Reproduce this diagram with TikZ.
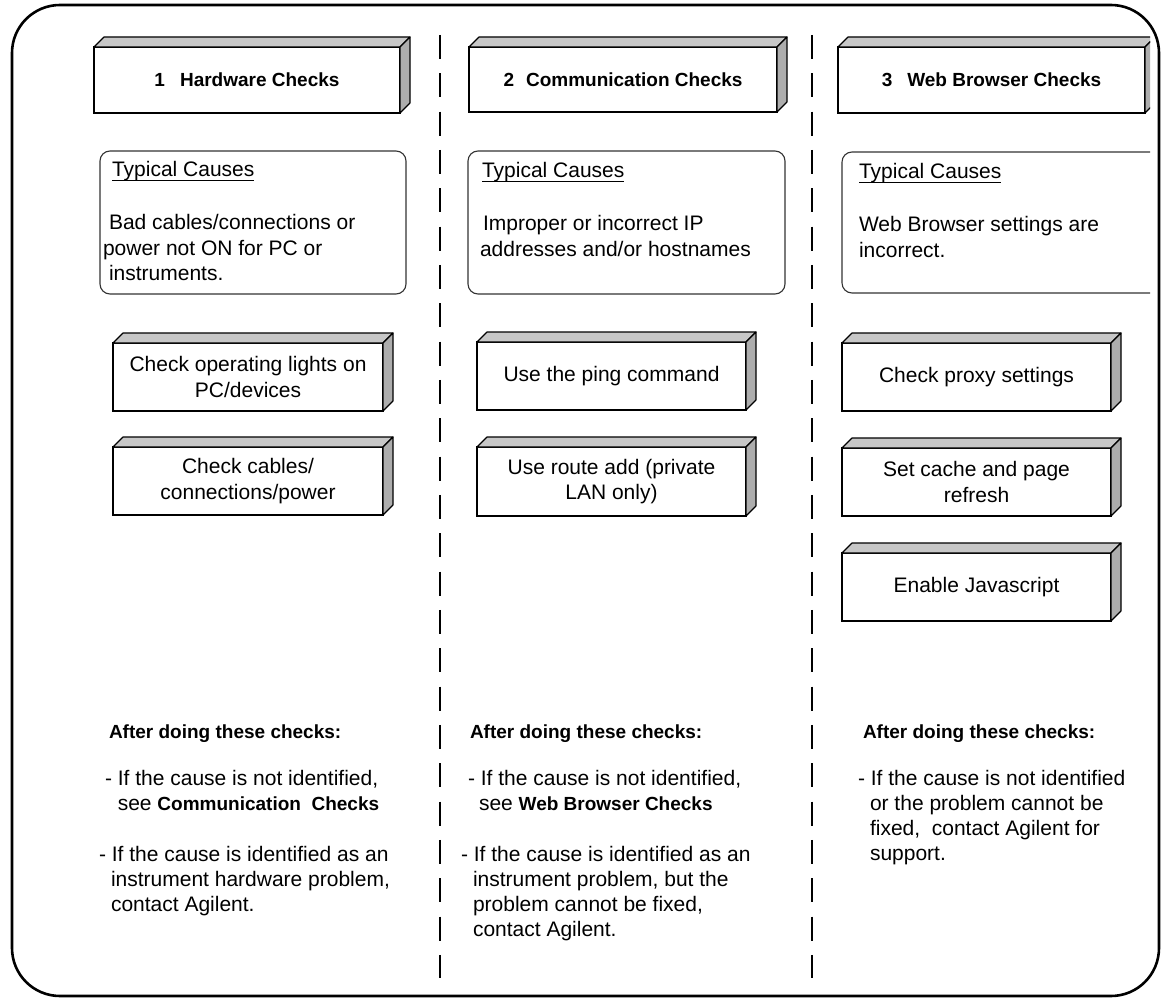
\documentclass[tikz,border=0pt]{standalone}
\usepackage{fontspec}
\setmainfont{Liberation Sans}
\newcommand\cubebox[7]{%
  \node[front, minimum width=#4pt, minimum height=#5pt, #7] (#1) at (#2,#3) {#6};
  \draw[topface] (#1.north west) -- ++(10,-10) -- ([shift={(10,-10)}]#1.north east) -- (#1.north east) -- cycle;
  \draw[sideface] (#1.north east) -- ++(10,-10) -- ([shift={(10,-10)}]#1.south east) -- (#1.south east) -- cycle;
}
\newcommand\bsm[1]{{\fontsize{19}{25.3}\selectfont\bfseries #1}}
\begin{document}
\begin{tikzpicture}[x=1pt,y=-1pt,
  frame/.style={line width=2.6pt, rounded corners=48pt},
  divider/.style={line width=1.3pt, dash pattern=on 24pt off 14.33pt},
  front/.style={draw, line width=1.1pt, fill=white, inner sep=0pt, outer sep=0pt, align=center,
                font=\fontsize{21}{25.3}\selectfont},
  hdr/.style={font=\fontsize{19}{22}\selectfont\bfseries},
  topface/.style={draw, line width=1.1pt, fill=black!22, line join=round},
  sideface/.style={draw, line width=1.1pt, fill=black!32, line join=round},
  causebox/.style={draw=black!80, line width=1.1pt, rounded corners=10pt},
  txt/.style={inner sep=0pt, outer sep=0pt, anchor=base west, font=\fontsize{21}{25.3}\selectfont},
  after/.style={inner sep=0pt, outer sep=0pt, anchor=base west, font=\fontsize{19}{22}\selectfont\bfseries},
  uline/.style={line width=1.2pt}
]
\useasboundingbox (0,0) rectangle (1164,1000);
\fill[white] (0,0) rectangle (1164,1000);

% outer frame
\draw[frame] (12,5) rectangle (1159,996);

% dividers
\draw[divider] (440,35) -- (440,978);
\draw[divider] (812,35) -- (812,978);

% ---------- column 1 ----------
\cubebox{h1}{247}{80}{306}{66}{1\hspace{15pt}Hardware Checks}{hdr}
\draw[causebox] (100,151) rectangle (406,294);
\node[txt] (tc1) at (112,177) {Typical Causes};
\draw[uline] ([yshift=-3.5pt]tc1.base west) -- ([yshift=-3.5pt]tc1.base east);
\node[txt] (cc1) at (103,230) {\vtop{\hbox{\hspace*{6pt}Bad cables/connections or}\hbox{power not ON for PC or}\hbox{\hspace*{6pt}instruments.}}};

\cubebox{k11}{248}{377}{270}{68}{Check operating lights on\\PC/devices}{}
\cubebox{k12}{248}{481}{270}{68}{Check cables/\\connections/power}{}

\node[after] (a1) at (109,738) {After doing these checks:};
\node[txt] (p11) at (105,785) {\vtop{\hbox{- If the cause is not identified,}\hbox{\hspace*{12.8pt}see \bsm{Communication\ \ Checks}}}};
\node[txt] (p12) at (99,861) {\vtop{\hbox{- If the cause is identified as an}\hbox{\hspace*{12pt}instrument hardware problem,}\hbox{\hspace*{12pt}contact Agilent.}}};

% ---------- column 2 ----------
\cubebox{h2}{623}{79.5}{308}{65}{2\hspace{12pt}Communication Checks}{hdr}
\draw[causebox] (468,151) rectangle (785,294);
\node[txt] (tc2) at (482,178) {Typical Causes};
\draw[uline] ([yshift=-3.5pt]tc2.base west) -- ([yshift=-3.5pt]tc2.base east);
\node[txt] (cc2) at (480,231) {\vtop{\hbox{\hspace*{3pt}Improper or incorrect IP}\hbox{addresses and/or hostnames}}};

\cubebox{k21}{611.5}{376}{269}{68}{Use the ping command}{}
\cubebox{k22}{611.5}{481.5}{269}{69}{Use route add (private\\LAN only)}{}

\node[after] (a2) at (470,738) {After doing these checks:};
\node[txt] (p21) at (468,785) {\vtop{\hbox{- If the cause is not identified,}\hbox{\hspace*{11pt}see \bsm{Web Browser Checks}}}};
\node[txt] (p22) at (461,861) {\vtop{\hbox{- If the cause is identified as an}\hbox{\hspace*{12pt}instrument problem, but the}\hbox{\hspace*{12pt}problem cannot be fixed,}\hbox{\hspace*{12pt}contact Agilent.}}};

% ---------- column 3 ----------
\begin{scope}
\clip (0,0) rectangle (1150,1000);
\cubebox{h3}{991.5}{80}{307}{66}{3\hspace{15pt}Web Browser Checks}{hdr}
\draw[causebox] (842,152) rectangle (1160,293);
\end{scope}
\node[txt] (tc3) at (859,179) {Typical Causes};
\draw[uline] ([yshift=-3.5pt]tc3.base west) -- ([yshift=-3.5pt]tc3.base east);
\node[txt] (cc3) at (859,232) {\vtop{\hbox{Web Browser settings are}\hbox{incorrect.}}};

\cubebox{k31}{976.5}{377}{269}{68}{Check proxy settings}{}
\cubebox{k32}{976.5}{482}{269}{68}{Set cache and page\\refresh}{}
\cubebox{k33}{976.5}{587}{269}{68}{Enable Javascript}{}

\node[after] (a3) at (863,738) {After doing these checks:};
\node[txt] (p31) at (858,785) {\vtop{\hbox{- If the cause is not identified}\hbox{\hspace*{12pt}or the problem cannot be}\hbox{\hspace*{12pt}fixed,\ \ contact Agilent for}\hbox{\hspace*{12pt}support.}}};
\end{tikzpicture}
\end{document}
